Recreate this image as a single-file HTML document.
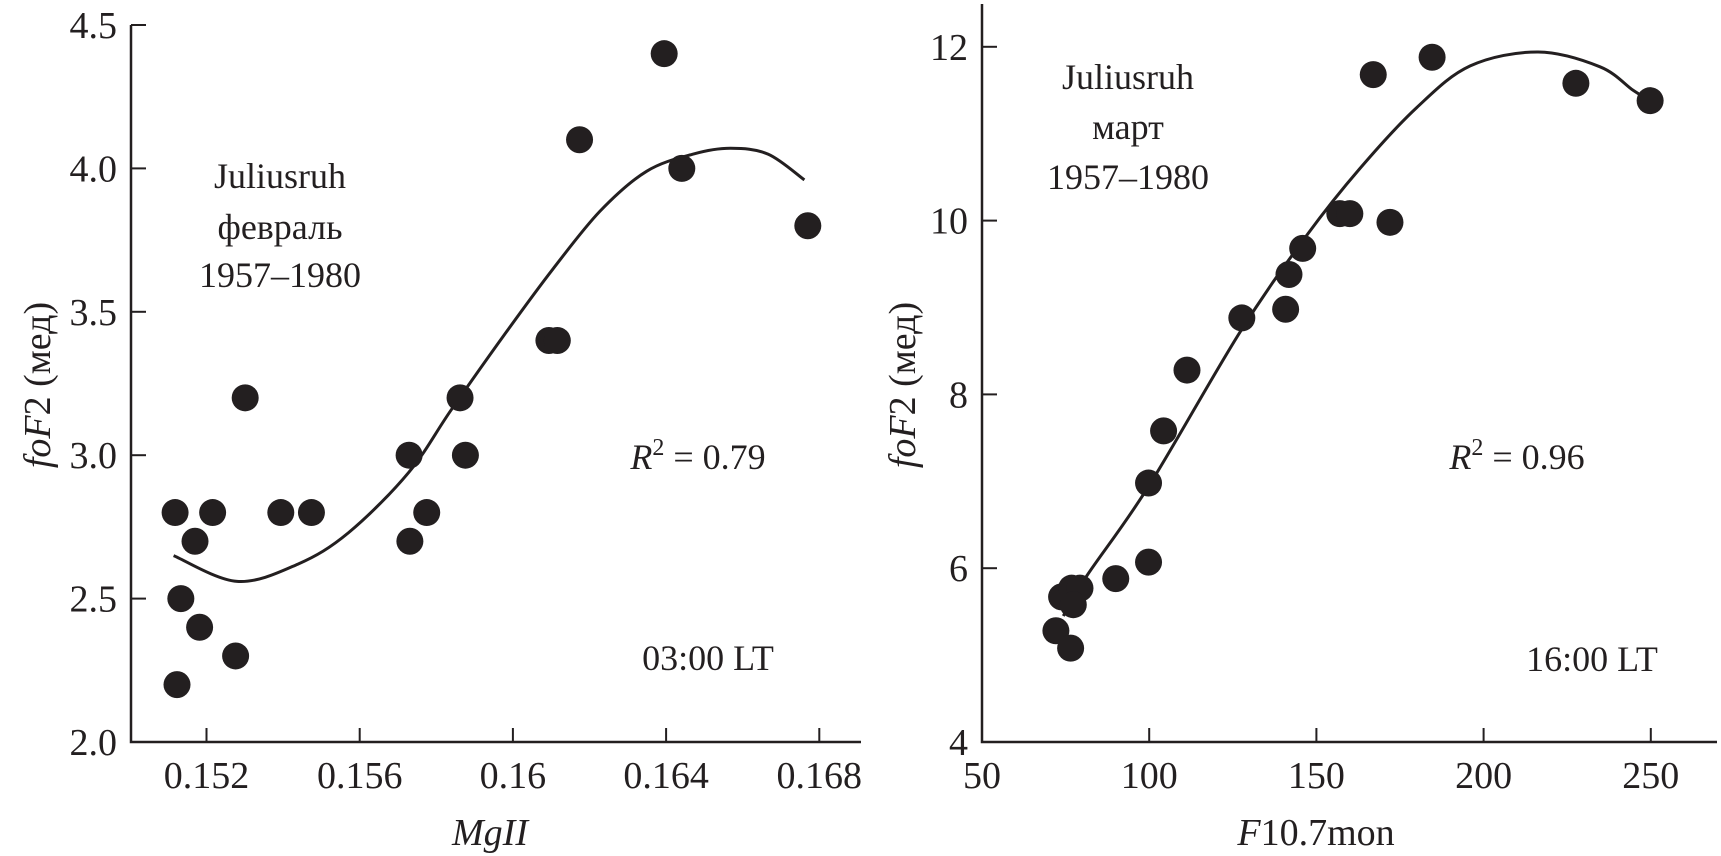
<!DOCTYPE html>
<html><head><meta charset="utf-8"><style>
html,body{margin:0;padding:0;background:#fff;}
svg{display:block;font-family:"Liberation Serif","DejaVu Serif",serif;}
</style></head><body>
<svg id="chart" width="1721" height="856" viewBox="0 0 1721 856" xmlns="http://www.w3.org/2000/svg">
<g id="left"></g>
<g id="right"></g>
<text transform="translate(50,385) rotate(-90)" text-anchor="middle" font-size="38" fill="#231f20"><tspan font-style="italic">foF</tspan>2 (мед)</text>
<text x="490" y="845" text-anchor="middle" font-size="38" font-style="italic" fill="#231f20">MgII</text>
<text transform="translate(915,385) rotate(-90)" text-anchor="middle" font-size="38" fill="#231f20"><tspan font-style="italic">foF</tspan>2 (мед)</text>
<text x="1316" y="845" text-anchor="middle" font-size="38" fill="#231f20"><tspan font-style="italic">F</tspan>10.7mon</text>
<g font-size="36" fill="#231f20" text-anchor="middle">
<text x="280" y="188">Juliusruh</text><text x="280" y="239">февраль</text><text x="280" y="287">1957–1980</text>
<text x="698" y="469"><tspan font-style="italic">R</tspan><tspan dy="-14" font-size="24">2</tspan><tspan dy="14"> = 0.79</tspan></text>
<text x="708" y="670">03:00 LT</text>
</g>
<g font-size="36" fill="#231f20" text-anchor="middle">
<text x="1128" y="89">Juliusruh</text><text x="1128" y="139">март</text><text x="1128" y="189">1957–1980</text>
<text x="1517" y="469"><tspan font-style="italic">R</tspan><tspan dy="-14" font-size="24">2</tspan><tspan dy="14"> = 0.96</tspan></text>
<text x="1592" y="671">16:00 LT</text>
</g>
</svg>
<script>
// Left panel data (MgII vs foF2)
const leftX = [0.15118,0.15123,0.15133,0.15170,0.15182,0.15216,0.15276,0.15301,0.15394,0.15474,0.15729,0.15731,0.15775,0.15862,0.15876,0.16094,0.16116,0.16174,0.16395,0.16441,0.16770];
const leftY = [2.8,2.2,2.5,2.7,2.4,2.8,2.3,3.2,2.8,2.8,3.0,2.7,2.8,3.2,3.0,3.4,3.4,4.1,4.4,4.0,3.8];
const leftFitX = [0.15114,0.1528,0.15438,0.15571,0.15728,0.1584,0.15983,0.16105,0.16227,0.16349,0.16471,0.16568,0.16666,0.16761];
const leftFitY = [2.65,2.56,2.62,2.73,2.94,3.16,3.43,3.65,3.85,3.99,4.05,4.07,4.05,3.96];
const leftXTicks = [0.152,0.156,0.16,0.164,0.168];
const leftXTickLabels = ["0.152","0.156","0.16","0.164","0.168"];
const leftYTicks = [2.0,2.5,3.0,3.5,4.0,4.5];
const leftYTickLabels = ["2.0","2.5","3.0","3.5","4.0","4.5"];
// Right panel data (F10.7mon vs foF2)
const rightX = [72.1,73.8,76.8,79.3,77.3,76.5,90.0,99.8,99.8,104.3,111.3,127.7,140.8,141.8,145.9,157,160,172,167,184.6,227.6,249.8];
const rightY = [5.28,5.67,5.77,5.77,5.58,5.08,5.88,6.07,6.98,7.58,8.28,8.88,8.98,9.38,9.68,10.08,10.08,9.98,11.68,11.88,11.58,11.38];
const rightFitX = [74.3,81.3,99.8,127.2,147.1,163.0,180.0,196.0,216.3,234.8,244.7,249.8];
const rightFitY = [5.45,5.91,6.94,8.72,9.83,10.60,11.30,11.78,11.94,11.77,11.50,11.38];
const rightXTicks = [50,100,150,200,250];
const rightXTickLabels = ["50","100","150","200","250"];
const rightYTicks = [4,6,8,10,12];
const rightYTickLabels = ["4","6","8","10","12"];

const NS="http://www.w3.org/2000/svg";
function mk(parent,tag,attrs){const e=document.createElementNS(NS,tag);for(const k in attrs)e.setAttribute(k,attrs[k]);parent.appendChild(e);return e;}
function smooth(p){
  let d=`M${p[0][0].toFixed(1)},${p[0][1].toFixed(1)}`;
  for(let i=0;i<p.length-1;i++){
    const p0=p[i-1]||p[i],p1=p[i],p2=p[i+1],p3=p[i+2]||p2;
    const c1=[p1[0]+(p2[0]-p0[0])/6,p1[1]+(p2[1]-p0[1])/6];
    const c2=[p2[0]-(p3[0]-p1[0])/6,p2[1]-(p3[1]-p1[1])/6];
    d+=` C${c1[0].toFixed(1)},${c1[1].toFixed(1)} ${c2[0].toFixed(1)},${c2[1].toFixed(1)} ${p2[0].toFixed(1)},${p2[1].toFixed(1)}`;
  }
  return d;
}
function panel(g,cfg){
  const {X,Y,x0,x1,yTop,yBot,pts,fit,xt,xtl,yt,ytl} = cfg;
  const c="#231f20";
  const ax=mk(g,'path',{d:`M${x0},${yTop} V${yBot} H${x1}`,fill:'none',stroke:c,'stroke-width':2.5});
  
  
  xt.forEach((v,i)=>{
    const px=X(v);
    if(Math.abs(px-x0)>2){const t=mk(g,'line',{x1:px,x2:px,y1:yBot,y2:yBot-14,stroke:c,'stroke-width':2});
    
    }
    const l=mk(g,'text',{x:px,y:yBot+46,'text-anchor':'middle','font-size':38,fill:c});
    l.textContent=xtl[i];
    
    
  });
  yt.forEach((v,i)=>{
    const py=Y(v);
    if(Math.abs(py-yBot)>2){const t=mk(g,'line',{x1:x0,x2:x0+15,y1:py,y2:py,stroke:c,'stroke-width':2});
    
    }
    const l=mk(g,'text',{x:x0-14,y:py+13,'text-anchor':'end','font-size':38,fill:c});
    l.textContent=ytl[i];
    
    
  });
  const fp=fit[0].map((v,i)=>[X(v),Y(fit[1][i])]);
  const fl=mk(g,'path',{d:smooth(fp),fill:'none',stroke:c,'stroke-width':3,'stroke-linejoin':'round'});
  
  
  pts[0].forEach((v,i)=>{
    const p=mk(g,'circle',{cx:X(v),cy:Y(pts[1][i]),r:13.5,fill:'#231f20'});
    
    
  });
}
panel(document.getElementById('left'),{
  X:v=>206.5+(v-0.152)*38300, Y:v=>742-(v-2)*286.8,
  x0:131,x1:861,yTop:25,yBot:742,
  pts:[leftX,leftY],fit:[leftFitX,leftFitY],
  xt:leftXTicks,xtl:leftXTickLabels,yt:leftYTicks,ytl:leftYTickLabels});
panel(document.getElementById('right'),{
  X:v=>982+(v-50)*3.344, Y:v=>742-(v-4)*86.9,
  x0:982,x1:1717,yTop:4,yBot:742,
  pts:[rightX,rightY],fit:[rightFitX,rightFitY],
  xt:rightXTicks,xtl:rightXTickLabels,yt:rightYTicks,ytl:rightYTickLabels});
</script>
</body></html>
